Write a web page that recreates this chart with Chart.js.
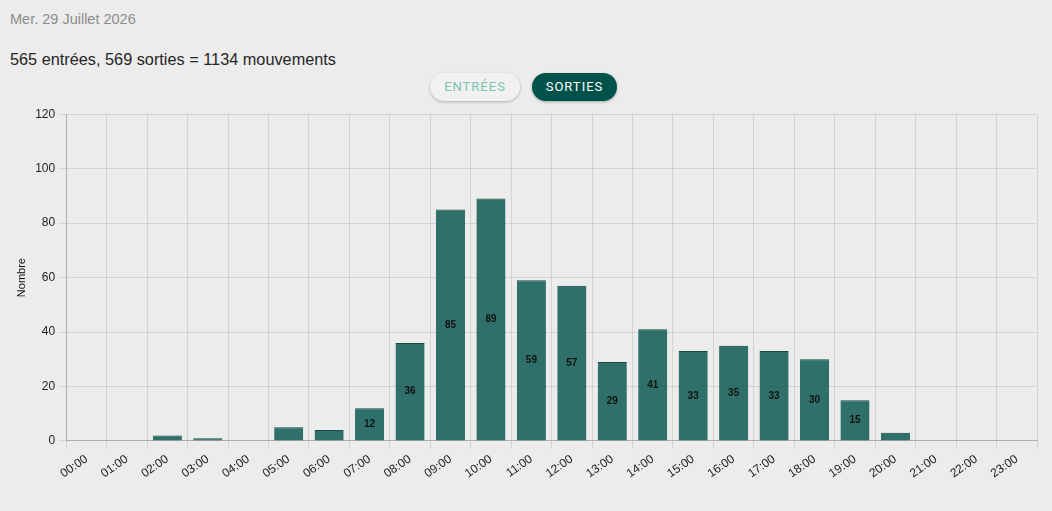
<!DOCTYPE html>
<html>
<head>
<meta charset="utf-8">
<script src="https://cdn.jsdelivr.net/npm/chart.js@4"></script>
<style>
  html, body { margin: 0; padding: 0; background: #ececec; width: 1052px; height: 511px; overflow: hidden; font-family: "Liberation Sans", Arial, Helvetica, sans-serif; }
  #date { position: absolute; left: 10px; top: 11px; font-size: 14.5px; color: #8c8c8c; }
  #summary { position: absolute; left: 10px; top: 50px; font-size: 16.3px; color: #262626; }
  .btn { position: absolute; top: 73px; height: 28px; border-radius: 14px; font-family: Roboto, "Liberation Sans", sans-serif; font-size: 13px; letter-spacing: 1px; line-height: 28px; text-align: center; box-sizing: border-box; }
  #b1 { left: 430px; width: 90px; background: #f1f1f1; color: #7cc2b3; box-shadow: 0 1px 3px rgba(0,0,0,0.25); }
  #b2 { left: 532px; width: 85px; background: #00524a; color: #ffffff; box-shadow: 0 1px 3px rgba(0,0,0,0.3); }
  #wrap { position: absolute; left: 0; top: 104px; width: 1052px; height: 407px; }
</style>
</head>
<body>
<div id="date">Mer. 29 Juillet 2026</div>
<div id="summary">565 entrées, 569 sorties = 1134 mouvements</div>
<div class="btn" id="b1">ENTRÉES</div>
<div class="btn" id="b2">SORTIES</div>
<div id="wrap"><canvas id="c"></canvas></div>
<script>
const hours = ["00:00","01:00","02:00","03:00","04:00","05:00","06:00","07:00","08:00","09:00","10:00","11:00","12:00","13:00","14:00","15:00","16:00","17:00","18:00","19:00","20:00","21:00","22:00","23:00"];
const sorties = [0,0,2,1,0,5,4,12,36,85,89,59,57,29,41,33,35,33,30,15,3,0,0,0];
const yTicks = [0,20,40,60,80,100,120];

const valueLabels = {
  id: 'valueLabels',
  afterDatasetsDraw(chart) {
    const ctx = chart.ctx;
    const meta = chart.getDatasetMeta(0);
    ctx.save();
    ctx.font = 'bold 10px "Liberation Sans", Arial, sans-serif';
    ctx.fillStyle = '#111';
    ctx.textAlign = 'center';
    ctx.textBaseline = 'middle';
    meta.data.forEach((bar, i) => {
      const v = sorties[i];
      if (v >= 10) {
        const p = bar.getProps(['x','y','base'], true);
        ctx.fillText(String(v), p.x, (p.y + p.base) / 2);
      }
    });
    ctx.restore();
  }
};

new Chart(document.getElementById('c'), {
  type: 'bar',
  data: {
    labels: hours,
    datasets: [{
      label: 'Sorties',
      data: sorties,
      backgroundColor: 'rgba(0,82,74,0.8)',
      borderColor: '#1a4a43',
      borderWidth: {top: 1, left: 0, right: 0, bottom: 0},
      borderSkipped: 'start'
    }]
  },
  options: {
    responsive: true,
    maintainAspectRatio: false,
    animation: false,
    layout: { padding: { top: 10, right: 15, bottom: 27, left: 11 } },
    plugins: { legend: { display: false }, tooltip: { enabled: false } },
    scales: {
      x: {
        grid: { color: (c) => c.index === hours.length ? 'rgba(0,0,0,0)' : 'rgba(0,0,0,0.1)', tickLength: 8, offset: true },
        border: { color: 'rgba(0,0,0,0.18)' },
        ticks: { color: '#222', font: { size: 12, family: '"Liberation Sans", Arial, sans-serif' }, minRotation: 35, maxRotation: 35, autoSkip: false }
      },
      y: {
        min: 0, max: 120,
        afterBuildTicks: (axis) => { axis.ticks = yTicks.map(v => ({ value: v })); },
        grid: { color: 'rgba(0,0,0,0.1)', tickLength: 8 },
        border: { color: 'rgba(0,0,0,0.18)' },
        ticks: { color: '#222', font: { size: 12, family: '"Liberation Sans", Arial, sans-serif' } },
        title: { display: true, text: 'Nombre', color: '#111', font: { size: 11, family: '"Liberation Sans", Arial, sans-serif' } }
      }
    }
  },
  plugins: [valueLabels]
});
</script>
</body>
</html>
